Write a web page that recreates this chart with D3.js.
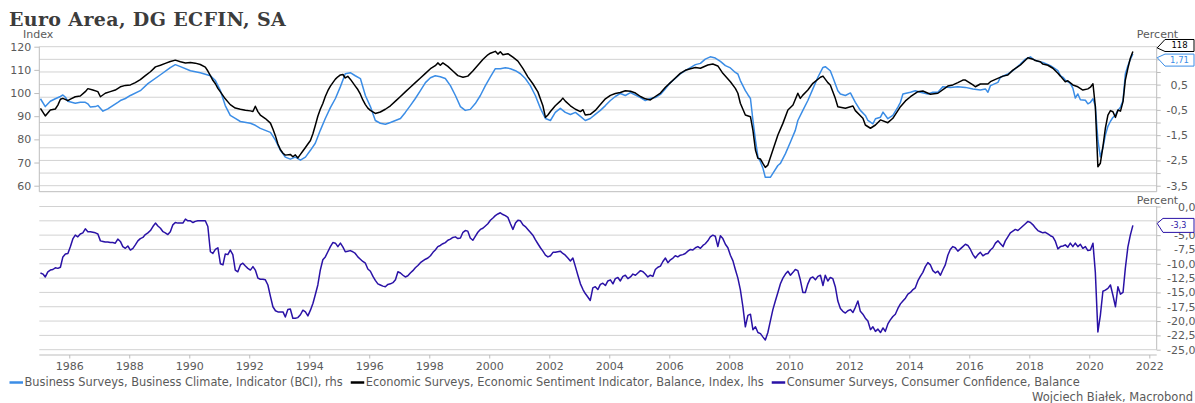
<!DOCTYPE html>
<html><head><meta charset="utf-8">
<script src="https://cdn.jsdelivr.net/npm/d3@7"></script>
<style>
html,body{margin:0;padding:0;background:#fff;}
svg{display:block;}
text{font-family:"DejaVu Sans",sans-serif;}
</style></head><body>
<svg id="chart" width="1195" height="403"></svg>
<script>
// ---------------- DATA ----------------
const title = "Euro Area, DG ECFIN, SA";
const credit = "Wojciech Białek, Macrobond";
const legendLabels = [
  "Business Surveys, Business Climate, Indicator (BCI), rhs",
  "Economic Surveys, Economic Sentiment Indicator, Balance, Index, lhs",
  "Consumer Surveys, Consumer Confidence, Balance"
];
const yearTicks = [1986,1988,1990,1992,1994,1996,1998,2000,2002,2004,2006,2008,2010,2012,2014,2016,2018,2020,2022];
const leftTicks = [60,70,80,90,100,110,120];
const rightTopTicks = [-3.5,-3,-2.5,-2,-1.5,-1,-0.5,0,0.5,1,1.5,2];
const rightTopLabels = [-3.5,-2.5,-1.5,-0.5,0.5,1.5];
const rightBottomTicks = [0,-2.5,-5,-7.5,-10,-12.5,-15,-17.5,-20,-22.5,-25];

// Economic Sentiment Indicator (index, left axis)
const esi = [
["1985-01",93.4],["1985-03",90.1],["1985-05",92.7],["1985-07",93.1],["1985-08",94.8],["1985-09",97.3],["1985-10",97.7],["1985-12",96.7],
["1986-01",97.4],["1986-03",98.4],["1986-05",98.7],["1986-07",100.6],["1986-08",101.9],["1986-10",101.3],["1986-12",100.6],
["1987-01",98.4],["1987-03",99.9],["1987-05",100.6],["1987-07",101.3],["1987-09",102.7],["1987-11",103.3],
["1988-01",103.5],["1988-03",104.5],["1988-05",105.8],["1988-07",107.5],["1988-09",109.2],["1988-11",111.3],
["1989-01",112.0],["1989-03",112.8],["1989-05",113.6],["1989-07",114.2],["1989-09",113.5],["1989-11",113.0],
["1990-01",113.2],["1990-03",112.9],["1990-05",112.3],["1990-07",111.2],["1990-08",109.5],["1990-09",107.5],["1990-10",105.5],["1990-11",104.0],["1990-12",102.0],
["1991-01",100.5],["1991-03",97.5],["1991-05",95.0],["1991-07",93.5],["1991-09",93.0],["1991-11",92.6],
["1992-01",92.3],["1992-02",92.0],["1992-03",94.3],["1992-04",92.0],["1992-05",90.5],["1992-07",89.0],["1992-09",87.0],["1992-10",84.5],["1992-11",81.5],["1992-12",78.0],
["1993-01",75.5],["1993-02",74.0],["1993-03",73.2],["1993-05",73.5],["1993-06",72.5],["1993-07",73.3],["1993-08",72.0],["1993-09",73.5],["1993-10",75.0],["1993-11",76.5],["1993-12",78.0],
["1994-01",79.5],["1994-02",82.5],["1994-03",86.0],["1994-04",90.0],["1994-05",93.0],["1994-06",95.5],["1994-07",98.5],["1994-08",101.0],["1994-09",103.0],["1994-10",104.5],["1994-11",106.0],["1994-12",107.0],
["1995-01",107.8],["1995-02",108.0],["1995-03",106.5],["1995-04",107.2],["1995-05",106.0],["1995-06",104.5],["1995-07",103.0],["1995-08",101.5],["1995-09",99.5],["1995-10",97.0],["1995-11",95.0],["1995-12",93.5],
["1996-01",92.5],["1996-03",91.2],["1996-05",91.8],["1996-07",93.0],["1996-09",94.5],["1996-11",96.5],
["1997-01",98.5],["1997-03",100.5],["1997-05",102.5],["1997-07",104.5],["1997-09",106.5],["1997-11",108.5],
["1998-01",110.5],["1998-03",111.8],["1998-04",113.0],["1998-05",112.0],["1998-06",113.0],["1998-08",111.5],["1998-10",109.5],["1998-12",107.5],
["1999-02",106.8],["1999-04",107.3],["1999-06",109.5],["1999-08",112.0],["1999-10",114.5],["1999-12",116.5],
["2000-01",117.2],["2000-03",118.0],["2000-04",116.8],["2000-05",117.8],["2000-06",116.5],["2000-08",117.0],["2000-10",115.5],["2000-12",113.8],
["2001-02",110.5],["2001-04",107.0],["2001-06",104.0],["2001-08",100.5],["2001-10",94.5],["2001-11",89.5],["2001-12",90.5],
["2002-01",92.0],["2002-03",94.5],["2002-05",96.5],["2002-06",97.8],["2002-07",96.5],["2002-09",94.5],["2002-11",93.0],
["2003-01",92.0],["2003-02",92.8],["2003-03",90.5],["2003-05",90.8],["2003-07",92.5],["2003-09",95.0],["2003-11",97.5],
["2004-01",99.0],["2004-03",99.8],["2004-05",100.2],["2004-07",101.0],["2004-09",100.8],["2004-11",100.0],
["2005-01",98.5],["2005-03",97.5],["2005-05",97.0],["2005-07",98.5],["2005-09",100.0],["2005-11",102.5],
["2006-01",104.5],["2006-03",106.5],["2006-05",108.5],["2006-07",109.8],["2006-09",110.5],["2006-11",111.0],
["2007-01",110.7],["2007-04",112.1],["2007-06",112.5],["2007-08",111.7],["2007-10",108.5],
["2008-01",104.9],["2008-03",102.0],["2008-04",99.9],["2008-05",95.6],["2008-07",90.5],["2008-09",89.8],["2008-10",84.0],["2008-11",75.4],["2008-12",71.8],
["2009-01",71.5],["2009-02",69.5],["2009-03",67.9],["2009-04",68.9],["2009-06",75.4],["2009-08",81.9],["2009-10",86.9],["2009-12",92.7],
["2010-02",94.8],["2010-04",99.9],["2010-05",97.7],["2010-06",99.1],["2010-08",101.3],["2010-10",104.2],
["2011-01",106.8],["2011-02",107.3],["2011-04",104.5],["2011-05",103.5],["2011-07",97.7],["2011-08",94.1],["2011-11",93.4],
["2012-02",94.4],["2012-03",92.4],["2012-06",89.1],["2012-07",86.2],["2012-09",84.8],["2012-11",86.2],
["2013-01",88.4],["2013-04",87.2],["2013-06",89.1],["2013-09",94.1],["2013-11",96.6],
["2014-01",98.4],["2014-04",100.6],["2014-06",100.9],["2014-09",99.5],["2014-12",99.9],
["2015-04",103.0],["2015-06",103.5],["2015-08",104.5],["2015-10",105.6],["2015-11",105.6],
["2016-02",103.5],["2016-03",102.7],["2016-05",103.9],["2016-08",103.9],["2016-09",104.9],["2016-11",105.9],
["2017-02",107.3],["2017-04",107.8],["2017-06",109.9],["2017-09",112.1],["2017-12",115.2],
["2018-02",114.6],["2018-03",114.0],["2018-05",113.5],["2018-06",112.5],["2018-08",112.0],["2018-10",110.7],["2018-12",108.5],
["2019-01",107.3],["2019-03",104.9],["2019-04",105.3],["2019-06",103.5],["2019-08",102.7],["2019-10",101.3],["2019-12",101.8],
["2020-01",102.5],["2020-02",104.0],["2020-03",94.1],["2020-04",68.2],["2020-05",69.7],["2020-06",76.8],["2020-07",84.8],["2020-08",90.5],["2020-09",92.4],["2020-10",91.9],["2020-11",89.5],["2020-12",92.7],
["2021-01",92.2],["2021-02",96.3],["2021-03",105.6],["2021-04",110.7],["2021-05",115.0],["2021-06",117.9]
];

// Business Climate Indicator (percent, right axis)
const bci = [
["1985-01",-0.06],["1985-03",-0.37],["1985-05",-0.16],["1985-07",-0.06],["1985-09",0.03],["1985-10",0.09],["1985-11",0.0],["1985-12",-0.16],
["1986-03",-0.24],["1986-05",-0.20],["1986-07",-0.20],["1986-08",-0.26],["1986-09",-0.39],["1986-11",-0.37],["1986-12",-0.33],
["1987-02",-0.55],["1987-04",-0.46],["1987-06",-0.33],["1987-08",-0.20],["1987-09",-0.13],["1987-11",-0.05],
["1988-01",0.07],["1988-05",0.26],["1988-08",0.54],["1989-01",0.89],["1989-05",1.17],["1989-07",1.29],["1989-09",1.21],
["1990-01",1.05],["1990-05",0.97],["1990-09",0.85],["1990-11",0.66],
["1991-01",0.26],["1991-03",-0.33],["1991-05",-0.72],["1991-07",-0.84],["1991-09",-0.96],
["1992-01",-1.03],["1992-03",-1.11],["1992-05",-1.23],["1992-09",-1.39],["1992-11",-1.70],
["1993-01",-2.10],["1993-03",-2.37],["1993-05",-2.45],["1993-07",-2.37],["1993-09",-2.49],["1993-11",-2.37],
["1994-01",-2.10],["1994-03",-1.82],["1994-05",-1.31],["1994-07",-0.84],["1994-09",-0.41],["1994-11",-0.05],
["1995-01",0.42],["1995-03",0.93],["1995-05",0.97],["1995-07",0.85],["1995-09",0.74],["1995-11",0.07],
["1996-01",-0.37],["1996-03",-0.92],["1996-05",-1.03],["1996-07",-1.07],["1996-09",-1.00],["1996-11",-0.92],
["1997-01",-0.84],["1997-03",-0.60],["1997-05",-0.33],["1997-07",-0.05],["1997-09",0.26],["1997-11",0.58],
["1998-01",0.77],["1998-03",0.85],["1998-05",0.81],["1998-07",0.74],["1998-09",0.46],["1998-11",0.07],
["1999-01",-0.37],["1999-03",-0.52],["1999-05",-0.48],["1999-07",-0.25],["1999-09",0.07],["1999-11",0.46],
["2000-01",0.81],["2000-03",1.13],["2000-05",1.13],["2000-07",1.17],["2000-09",1.13],["2000-11",1.05],
["2001-01",0.93],["2001-03",0.74],["2001-05",0.46],["2001-07",0.07],["2001-09",-0.44],["2001-11",-0.84],
["2002-01",-0.92],["2002-03",-0.60],["2002-05",-0.44],["2002-07",-0.60],["2002-09",-0.68],["2002-11",-0.60],
["2003-01",-0.76],["2003-03",-0.92],["2003-05",-0.84],["2003-07",-0.68],["2003-09",-0.52],["2003-11",-0.33],
["2004-01",-0.13],["2004-03",0.03],["2004-05",0.15],["2004-07",0.07],["2004-09",0.18],
["2005-01",-0.01],["2005-03",-0.13],["2005-05",-0.05],["2005-07",-0.01],["2005-09",0.11],["2005-11",0.34],
["2006-01",0.58],["2006-03",0.74],["2006-05",0.93],["2006-07",1.05],["2006-09",1.17],["2006-11",1.29],
["2007-01",1.34],["2007-03",1.51],["2007-05",1.60],["2007-07",1.55],["2007-09",1.42],["2007-11",1.25],
["2008-01",1.16],["2008-03",0.98],["2008-04",0.92],["2008-05",0.66],["2008-07",0.26],["2008-08",0.10],["2008-09",-0.05],["2008-10",-0.90],["2008-11",-1.70],["2008-12",-2.35],
["2009-01",-2.56],["2009-02",-2.82],["2009-03",-3.17],["2009-05",-3.17],["2009-06",-3.01],["2009-08",-2.70],["2009-09",-2.62],["2009-11",-2.23],
["2010-01",-1.77],["2010-03",-1.31],["2010-04",-0.92],["2010-06",-0.52],["2010-08",-0.13],["2010-10",0.33],["2010-12",0.79],
["2011-02",1.18],["2011-03",1.21],["2011-05",1.05],["2011-06",0.79],["2011-08",0.26],["2011-09",0.13],["2011-11",0.07],
["2012-01",0.17],["2012-03",-0.20],["2012-05",-0.52],["2012-07",-0.72],["2012-08",-0.92],["2012-10",-1.05],["2012-11",-0.85],
["2013-01",-0.79],["2013-02",-0.59],["2013-04",-0.85],["2013-06",-0.72],["2013-08",-0.39],["2013-09",-0.20],["2013-10",0.13],
["2014-01",0.20],["2014-03",0.26],["2014-05",0.20],["2014-08",0.13],["2014-10",0.20],["2014-12",0.20],
["2015-02",0.42],["2015-05",0.39],["2015-08",0.42],["2015-11",0.39],
["2016-02",0.33],["2016-05",0.29],["2016-07",0.33],["2016-08",0.20],["2016-09",0.46],["2016-12",0.59],
["2017-01",0.79],["2017-04",0.92],["2017-06",1.05],["2017-09",1.31],["2017-11",1.51],
["2018-01",1.60],["2018-02",1.51],["2018-04",1.42],["2018-06",1.38],["2018-09",1.25],["2018-12",1.05],
["2019-01",0.85],["2019-02",0.79],["2019-03",0.68],["2019-05",0.55],["2019-06",0.36],["2019-07",-0.03],["2019-08",0.13],["2019-09",-0.10],["2019-11",-0.12],["2019-12",-0.26],
["2020-01",-0.20],["2020-02",-0.06],["2020-03",-0.35],["2020-04",-1.70],["2020-05",-2.36],["2020-06",-2.00],["2020-07",-1.50],["2020-08",-1.15],["2020-09",-0.95],["2020-10",-0.80],["2020-11",-0.70],["2020-12",-0.52],
["2021-01",-0.39],["2021-02",-0.13],["2021-03",0.92],["2021-04",1.25],["2021-05",1.50],["2021-06",1.71]
];

// Consumer Confidence (balance), monthly from Jan 1985
const cciStart = "1985-01";
const cciValues = [
-11.6,-11.8,-12.3,-11.4,-11.1,-11.0,-10.7,-10.8,-10.6,-8.8,-8.3,-8.2,
-7.0,-5.6,-5.0,-5.3,-4.8,-4.6,-3.9,-4.4,-4.4,-4.5,-4.6,-4.8,
-6.0,-6.1,-6.2,-6.2,-6.3,-6.3,-6.4,-5.7,-6.1,-7.0,-7.3,-6.9,
-7.6,-7.3,-6.7,-6.0,-5.6,-5.4,-4.9,-4.6,-4.2,-3.5,-2.9,-3.4,
-3.8,-4.4,-4.6,-4.9,-4.4,-3.2,-2.8,-2.9,-2.9,-2.9,-2.2,-2.5,
-2.5,-2.8,-2.6,-2.5,-2.5,-2.5,-2.5,-3.5,-7.9,-8.2,-7.5,-7.2,
-10.0,-10.2,-8.3,-8.4,-7.6,-8.4,-11.1,-11.4,-10.2,-9.9,-10.4,-10.8,
-11.1,-10.5,-11.1,-12.5,-12.7,-12.7,-12.8,-13.7,-15.7,-17.5,-18.2,-18.4,
-18.4,-18.4,-19.3,-18.0,-17.9,-19.5,-19.5,-19.4,-18.9,-18.1,-18.4,-19.1,
-18.1,-16.9,-15.4,-13.7,-11.1,-9.3,-8.8,-7.9,-7.0,-6.3,-6.4,-7.0,
-6.4,-7.1,-7.9,-7.8,-7.7,-7.9,-8.2,-8.8,-9.2,-9.6,-9.9,-10.9,
-11.3,-12.2,-12.9,-13.5,-13.7,-13.9,-14.0,-13.6,-13.5,-13.3,-12.8,-11.4,
-11.6,-12.0,-12.3,-12.1,-11.6,-11.2,-10.7,-10.3,-9.8,-9.5,-9.2,-9.0,
-8.6,-8.0,-7.6,-7.0,-6.8,-6.5,-6.3,-5.9,-5.7,-5.4,-5.3,-5.6,
-5.5,-4.5,-4.2,-4.3,-5.5,-5.9,-5.2,-4.5,-4.0,-3.8,-3.4,-3.0,
-2.4,-2.0,-1.6,-1.3,-1.1,-1.4,-1.6,-1.9,-3.0,-4.0,-2.9,-2.4,
-2.5,-3.2,-3.5,-4.0,-4.5,-5.0,-5.8,-6.5,-7.2,-7.8,-8.5,-8.8,
-8.6,-8.0,-8.0,-7.9,-7.8,-8.2,-8.5,-9.0,-9.5,-9.0,-10.5,-12.0,
-13.5,-14.5,-15.2,-15.8,-16.4,-14.2,-14.0,-14.5,-13.6,-13.4,-13.8,-13.0,
-12.8,-13.5,-12.6,-12.4,-13.0,-12.2,-12.0,-12.6,-12.3,-11.8,-12.0,-11.6,
-11.2,-11.4,-11.8,-12.3,-12.0,-12.2,-11.0,-10.6,-10.4,-9.6,-9.0,-9.8,
-9.3,-9.0,-8.6,-8.8,-8.5,-8.4,-8.2,-7.8,-7.5,-7.6,-7.2,-7.0,
-7.3,-6.8,-6.5,-6.0,-5.3,-5.0,-5.2,-7.0,-5.1,-5.6,-6.6,-7.2,
-8.5,-9.5,-11.0,-12.5,-14.5,-17.5,-21.0,-19.0,-18.8,-21.5,-21.0,-22.0,
-22.2,-22.8,-23.3,-22.0,-20.0,-18.0,-16.5,-15.0,-13.5,-12.5,-11.8,-11.3,
-12.0,-11.5,-11.0,-11.2,-12.8,-15.0,-15.0,-13.5,-12.5,-12.3,-12.8,-12.2,
-12.0,-13.8,-12.0,-13.0,-12.4,-12.6,-14.0,-16.5,-17.8,-18.3,-18.6,-18.2,
-18.0,-18.5,-17.6,-16.5,-18.3,-18.8,-19.5,-20.0,-21.5,-21.0,-21.8,-21.4,
-22.0,-21.2,-21.8,-20.5,-19.8,-19.2,-18.8,-17.8,-17.0,-16.5,-16.0,-15.3,
-15.0,-14.5,-14.2,-13.0,-12.2,-11.5,-10.5,-9.8,-10.2,-11.2,-11.6,-11.3,
-12.0,-11.0,-10.2,-8.5,-7.5,-7.0,-7.2,-7.8,-7.4,-7.0,-6.6,-6.8,
-7.5,-8.4,-9.0,-8.4,-8.0,-8.6,-8.3,-8.2,-7.6,-7.2,-6.4,-6.0,
-6.5,-7.0,-6.0,-5.3,-4.6,-4.3,-4.0,-4.2,-3.8,-3.4,-3.0,-2.6,
-2.8,-3.2,-3.7,-4.2,-4.4,-4.6,-4.5,-4.8,-5.1,-5.3,-6.1,-7.4,
-7.0,-6.9,-6.7,-7.1,-6.4,-7.0,-6.4,-7.0,-6.6,-7.3,-7.0,-7.7,
-7.6,-6.4,-11.5,-21.9,-19.0,-14.8,-14.6,-14.3,-13.7,-15.5,-17.5,-14.0,
-15.3,-15.0,-10.8,-7.1,-5.0,-3.3
];

// ---------------- STYLE / LAYOUT ----------------
const C_BCI = "#3b8de6", C_ESI = "#000000", C_CCI = "#2a12a6";
const GRID = "#d2d2d2", AXIS = "#bdbdbd", TXT = "#5a5a5a";
const L = 39.3, R = 1156.7;
const topY0 = 46.7, topY1 = 185.7, topFrame = 191.7;
const botY0 = 206.5, botY1 = 349.7, xAxisY = 355;

const parse = s => { const [Y, M] = s.split("-").map(Number); return new Date(Y, M - 1, 15); };
const [sY, sM] = cciStart.split("-").map(Number);
const cci = cciValues.map((v, i) => [new Date(sY, sM - 1 + i, 15), v]);

const x = d3.scaleTime().domain([new Date(1985, 0, 1), new Date(2022, 3, 1)]).range([L, R]);
const yL = d3.scaleLinear().domain([60, 120]).range([topY1, topY0]);
const yR = d3.scaleLinear().domain([-3.5, 2]).range([topY1, topY0]);
const yB = d3.scaleLinear().domain([-25, 0]).range([botY1, botY0]);

const fmt = (v, d) => v.toFixed(d).replace(".", ",");

const svg = d3.select("#chart");

// ---- last-value tag positions (computed first so covered tick labels can be skipped)
const lastE = esi[esi.length - 1][1], lastB = bci[bci.length - 1][1], lastC = cciValues[cciValues.length - 1];
const vE = yL(lastE), vB = yR(lastB), vC = yB(lastC);
let cE = vE, cB = vB;
const gap = 14.6;
if (Math.abs(cE - cB) < gap) {
  const mid = (cE + cB) / 2, s = cE <= cB ? -1 : 1;
  cE = mid + s * gap / 2; cB = mid - s * gap / 2;
}
const tagsTop = [[cE, 12], [cB, 12]];
const tagsBot = [[vC, 14]];
const covered = (y, tags) => tags.some(([c, h]) => Math.abs(y - c) < h / 2 + 1);

// title
svg.append("text").attr("x", 9).attr("y", 26).text(title)
  .style("font-family", "'DejaVu Serif', serif").style("font-weight", "bold")
  .style("font-size", "19px").style("letter-spacing", "0.35px").attr("fill", "#3c3c3c");

// unit labels
svg.append("text").attr("x", 23).attr("y", 38).text("Index").attr("font-size", 11).attr("fill", TXT);
svg.append("text").attr("x", 1157.5).attr("y", 38).attr("text-anchor", "middle").text("Percent").attr("font-size", 11).attr("fill", TXT);
svg.append("text").attr("x", 1157.5).attr("y", 204).attr("text-anchor", "middle").text("Percent").attr("font-size", 11).attr("fill", TXT);

// gridlines
svg.append("g").selectAll("line").data(rightTopTicks).join("line")
  .attr("x1", L).attr("x2", R).attr("y1", d => yR(d)).attr("y2", d => yR(d))
  .attr("stroke", GRID).attr("stroke-width", 1);
svg.append("g").selectAll("line").data(rightBottomTicks).join("line")
  .attr("x1", L).attr("x2", R).attr("y1", d => yB(d)).attr("y2", d => yB(d))
  .attr("stroke", GRID).attr("stroke-width", 1);

// frames
const frame = svg.append("g").attr("stroke", AXIS).attr("stroke-width", 1);
frame.append("line").attr("x1", L).attr("x2", L).attr("y1", topY0).attr("y2", topFrame);
frame.append("line").attr("x1", R).attr("x2", R).attr("y1", topY0).attr("y2", topFrame);
frame.append("line").attr("x1", L).attr("x2", R).attr("y1", topFrame).attr("y2", topFrame);
frame.append("line").attr("x1", R).attr("x2", R).attr("y1", botY0).attr("y2", botY1);
frame.append("line").attr("x1", L).attr("x2", R).attr("y1", xAxisY).attr("y2", xAxisY);

// left axis (top)
const gL = svg.append("g").attr("transform", `translate(${L},0)`)
  .call(d3.axisLeft(yL).tickValues(leftTicks).tickSize(5).tickPadding(3).tickFormat(d => d));
// right axis (top)
const gRT = svg.append("g").attr("transform", `translate(${R},0)`)
  .call(d3.axisRight(yR).tickValues(rightTopTicks).tickSize(4).tickPadding(0)
    .tickFormat(d => (rightTopLabels.includes(d) && !covered(yR(d), tagsTop)) ? fmt(d, 1) : ""));
gRT.selectAll("text").attr("text-anchor", "end").attr("x", 1188 - R);
// right axis (bottom)
const gRB = svg.append("g").attr("transform", `translate(${R},0)`)
  .call(d3.axisRight(yB).tickValues(rightBottomTicks).tickSize(4).tickPadding(0)
    .tickFormat(d => covered(yB(d), tagsBot) ? "" : fmt(d, 1)));
gRB.selectAll("text").attr("text-anchor", "end").attr("x", 1195.5 - R);
// x axis
const gX = svg.append("g").attr("transform", `translate(0,${xAxisY})`)
  .call(d3.axisBottom(x).tickValues(yearTicks.map(y => new Date(y, 0, 1))).tickSize(3.5).tickPadding(4)
    .tickFormat(d3.timeFormat("%Y")));

[gL, gRT, gRB, gX].forEach(g => {
  g.select(".domain").remove();
  g.selectAll(".tick line").attr("stroke", AXIS);
  g.selectAll(".tick text").attr("fill", TXT).style("font-size", "11px").style("font-family", "'DejaVu Sans', sans-serif");
});

// series
svg.append("defs").append("clipPath").attr("id", "clipTop").append("rect")
  .attr("x", L).attr("y", topY0 - 6).attr("width", R - L).attr("height", topFrame - topY0 + 6);
svg.select("defs").append("clipPath").attr("id", "clipBot").append("rect")
  .attr("x", L).attr("y", 196).attr("width", R - L).attr("height", xAxisY - 196);

const lineBCI = d3.line().x(d => x(parse(d[0]))).y(d => yR(d[1]));
const lineESI = d3.line().x(d => x(parse(d[0]))).y(d => yL(d[1]));
const lineCCI = d3.line().x(d => x(d[0])).y(d => yB(d[1]));

svg.append("path").datum(bci).attr("d", lineBCI).attr("fill", "none")
  .attr("stroke", C_BCI).attr("stroke-width", 1.5).attr("stroke-linejoin", "round").attr("clip-path", "url(#clipTop)");
svg.append("path").datum(esi).attr("d", lineESI).attr("fill", "none")
  .attr("stroke", C_ESI).attr("stroke-width", 1.5).attr("stroke-linejoin", "round").attr("clip-path", "url(#clipTop)");
svg.append("path").datum(cci).attr("d", lineCCI).attr("fill", "none")
  .attr("stroke", C_CCI).attr("stroke-width", 1.5).attr("stroke-linejoin", "round").attr("clip-path", "url(#clipBot)");

// last-value tags
function tag(cy, tipY, txt, color, h, x0, x1, fs) {
  const g = svg.append("g");
  g.append("path").attr("d",
    `M${R + 0.5},${tipY} L${x0},${cy - h / 2} L${x1},${cy - h / 2} L${x1},${cy + h / 2} L${x0},${cy + h / 2} Z`)
    .attr("fill", "#fff").attr("stroke", color).attr("stroke-width", 1);
  g.append("text").attr("x", (x0 + x1) / 2).attr("y", cy).attr("dy", "0.35em")
    .attr("text-anchor", "middle").attr("fill", color).style("font-size", fs + "px").text(txt);
}
tag(cE, cE + (vE - cE) * 0.4, String(Math.round(lastE)), "#000", 12, 1165, 1194, 8.5);
tag(cB, cB + (vB - cB) * 0.4, fmt(lastB, 2), C_BCI, 12, 1165, 1194, 8.5);
tag(vC, vC - 2, fmt(lastC, 1), C_CCI, 14, 1163, 1194, 8);

// legend
const legColors = [C_BCI, C_ESI, C_CCI];
let lx = 9.5;
const legY = 382.5;
legendLabels.forEach((lab, i) => {
  svg.append("line").attr("x1", lx).attr("x2", lx + 13.5).attr("y1", legY).attr("y2", legY)
    .attr("stroke", legColors[i]).attr("stroke-width", 2.5);
  const t = svg.append("text").attr("x", lx + 15).attr("y", legY).attr("dy", "0.35em")
    .attr("fill", TXT).style("font-size", "11.4px").text(lab);
  lx = lx + 15 + t.node().getComputedTextLength() + 8;
});

// credit
svg.append("text").attr("x", 1193).attr("y", 397).attr("dy", "0.35em").attr("text-anchor", "end")
  .attr("fill", TXT).style("font-size", "11.5px").text(credit);
</script>
</body></html>
